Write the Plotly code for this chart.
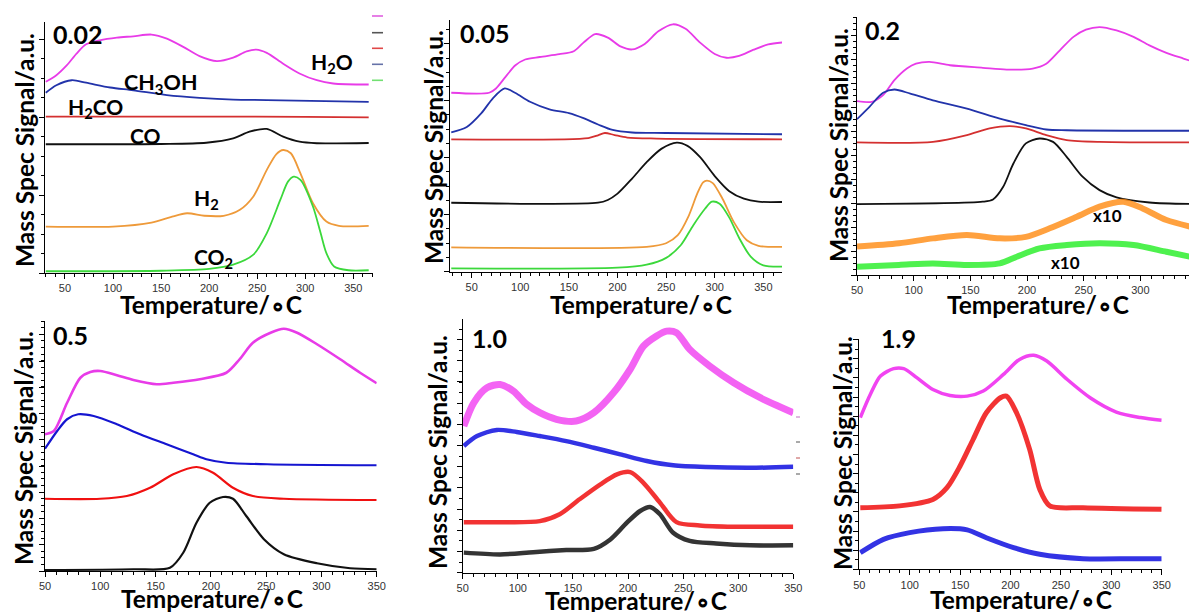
import plotly.graph_objects as go

# ---------------- DATA (x: Temperature / °C, y: signal, arbitrary units) ----------------
# Panel "0.02"
p1_h2o_T = [30, 41, 52, 62, 72, 86, 104, 121, 140, 156, 173, 190, 208, 225, 239, 249, 260, 277, 294, 312, 329, 366]
p1_h2o = [76.2, 78.8, 82.8, 87.4, 91.1, 92.7, 93.8, 94.3, 95.0, 93.4, 90.1, 86.4, 84.4, 85.8, 88.3, 89.0, 87.7, 83.4, 79.5, 76.8, 75.5, 75.1]
p1_ch3oh_T = [30, 41, 57, 72, 97, 121, 156, 190, 225, 260, 366]
p1_ch3oh = [71.8, 74.8, 76.8, 75.8, 73.9, 72.8, 70.9, 69.8, 69.1, 68.9, 68.2]
p1_h2co_T = [30, 100, 200, 300, 366]
p1_h2co = [62.3, 62.3, 62.3, 62.2, 62.0]
p1_co_T = [30, 150, 197, 225, 242, 260, 277, 294, 312, 366]
p1_co = [51.3, 51.4, 51.9, 53.6, 56.3, 57.4, 54.3, 52.3, 51.7, 51.8]
p1_h2_T = [30, 100, 140, 160, 177, 195, 215, 232, 246, 260, 270, 277, 285, 295, 308, 322, 335, 366]
p1_h2 = [18.5, 18.5, 20.1, 22.3, 23.8, 22.8, 22.8, 25.2, 30.5, 41.1, 47.4, 49.0, 47.7, 39.7, 27.8, 20.5, 18.8, 18.8]
p1_co2_T = [30, 150, 200, 225, 246, 260, 274, 282, 288, 295, 308, 316, 322, 330, 345, 366]
p1_co2 = [0.7, 0.9, 1.6, 3.3, 7.3, 15.9, 29.1, 36.4, 38.4, 37.1, 26.5, 15.9, 7.9, 2.6, 1.1, 1.1]

# Panel "0.05"
p2_h2o_T = [29, 68, 75, 85, 95, 105, 120, 140, 155, 165, 177, 190, 203, 215, 228, 242, 257, 270, 285, 300, 312, 325, 340, 355, 370]
p2_h2o = [71.1, 71.1, 72.8, 77.5, 82.0, 84.3, 85.3, 86.4, 87.6, 91.0, 94.4, 93.0, 89.5, 88.3, 90.5, 95.5, 98.3, 96.5, 91.0, 86.5, 85.0, 85.7, 88.2, 90.3, 91.1]
p2_ch3oh_T = [29, 45, 60, 72, 84, 95, 110, 130, 150, 165, 180, 195, 215, 250, 370]
p2_ch3oh = [55.4, 57.5, 63.0, 69.0, 72.8, 71.0, 67.5, 64.5, 63.0, 61.0, 58.5, 56.3, 55.3, 55.1, 54.6]
p2_h2co_T = [29, 170, 180, 187, 197, 210, 240, 370]
p2_h2co = [52.6, 53.1, 54.2, 55.1, 54.3, 53.3, 52.9, 52.6]
p2_co_T = [29, 180, 190, 200, 215, 230, 245, 261, 272, 285, 300, 315, 330, 345, 370]
p2_co = [27.4, 27.4, 28.5, 31.0, 37.0, 43.5, 48.8, 51.3, 50.0, 45.5, 38.0, 32.0, 29.0, 27.8, 27.7]
p2_h2_T = [29, 230, 250, 262, 273, 282, 288, 292, 298, 308, 320, 333, 345, 370]
p2_h2 = [9.7, 9.9, 11.3, 14.5, 22.0, 31.0, 35.5, 36.2, 35.2, 29.0, 19.5, 12.5, 10.3, 9.9]
p2_co2_T = [29, 200, 230, 250, 265, 278, 290, 297, 305, 315, 325, 337, 350, 370]
p2_co2 = [1.3, 1.6, 2.8, 5.5, 10.5, 18.5, 25.0, 27.8, 27.0, 21.5, 13.5, 6.0, 2.5, 2.0]

# Panel "0.2"
p3_h2o_T = [50, 63, 73, 83, 94, 102, 114, 132, 161, 182, 205, 217, 229, 241, 252, 264, 279, 294, 308, 323, 338, 350]
p3_h2o = [67.4, 67.1, 69.7, 75.5, 80.0, 81.9, 82.6, 81.3, 80.3, 79.6, 80.0, 81.9, 87.1, 92.3, 95.1, 96.1, 94.8, 92.3, 89.0, 86.1, 83.9, 82.2]
p3_ch3oh_T = [50, 61, 73, 83, 97, 117, 147, 176, 199, 217, 235, 350]
p3_ch3oh = [60.4, 65.2, 70.6, 71.9, 70.3, 67.7, 64.5, 60.6, 58.1, 56.4, 56.1, 55.9]
p3_h2co_T = [50, 117, 147, 167, 185, 199, 217, 235, 264, 350]
p3_h2co = [51.4, 51.6, 54.2, 56.8, 57.7, 56.8, 54.2, 52.3, 51.6, 51.4]
p3_co_T = [50, 161, 170, 179, 188, 199, 211, 223, 235, 249, 264, 279, 308, 350]
p3_co = [27.5, 28.4, 29.3, 34.2, 43.2, 51.0, 52.9, 51.6, 45.8, 38.1, 32.9, 30.1, 28.1, 27.5]
p3_h2_T = [50, 87, 117, 147, 176, 199, 220, 244, 264, 285, 302, 323, 350]
p3_h2 = [11.0, 12.3, 14.2, 15.5, 14.2, 14.8, 18.1, 22.6, 26.5, 28.4, 25.8, 21.3, 18.1]
p3_co2_T = [50, 87, 117, 147, 176, 191, 211, 235, 264, 294, 323, 350]
p3_co2 = [3.2, 3.9, 4.5, 3.9, 4.5, 7.1, 10.3, 11.6, 12.3, 11.6, 9.0, 6.5]

# Panel "0.5"
p4_h2o_T = [50, 58, 70, 82, 91, 100, 115, 130, 151, 166, 190, 214, 226, 238, 254, 266, 278, 296, 317, 335, 350]
p4_h2o = [54.7, 56.0, 67.3, 77.3, 79.6, 80.0, 78.3, 76.4, 74.7, 75.3, 76.7, 79.3, 84.7, 91.3, 95.3, 96.9, 95.3, 90.7, 84.7, 79.3, 75.1]
p4_ch3oh_T = [50, 61, 70, 80, 94, 115, 136, 160, 184, 196, 214, 251, 350]
p4_ch3oh = [48.9, 56.0, 60.7, 62.7, 62.0, 58.7, 54.7, 50.7, 46.7, 44.7, 43.3, 42.7, 42.3]
p4_h2co_T = [50, 100, 124, 145, 166, 187, 202, 220, 238, 266, 350]
p4_h2co = [28.9, 28.9, 30.0, 33.3, 38.7, 41.6, 39.3, 33.3, 30.0, 28.9, 28.4]
p4_co_T = [50, 130, 163, 175, 187, 199, 211, 220, 232, 248, 266, 296, 326, 350]
p4_co = [0.4, 0.7, 1.3, 7.3, 19.3, 27.3, 29.6, 28.9, 22.0, 12.7, 6.7, 3.1, 1.1, 0.7]

# Panel "1.0"
p5_h2o_T = [51, 60, 72, 84, 96, 108, 120, 135, 153, 169, 187, 202, 214, 226, 235, 244, 256, 274, 296, 320, 350]
p5_h2o = [57.7, 66.9, 72.8, 74.1, 71.5, 66.3, 63.0, 60.4, 59.7, 63.0, 70.9, 80.1, 89.2, 93.2, 95.1, 94.5, 87.9, 81.4, 74.8, 68.9, 63.0]
p5_ch3oh_T = [51, 63, 81, 99, 120, 144, 169, 193, 217, 241, 271, 311, 350]
p5_ch3oh = [49.9, 53.8, 56.2, 55.4, 53.8, 51.8, 49.2, 46.6, 44.0, 42.3, 41.6, 41.3, 41.7]
p5_h2co_T = [51, 84, 120, 138, 156, 175, 190, 202, 214, 229, 244, 265, 296, 350]
p5_h2co = [19.9, 19.9, 20.3, 23.0, 28.9, 34.8, 38.7, 39.6, 35.4, 27.6, 19.9, 18.6, 18.1, 18.1]
p5_co_T = [51, 84, 114, 144, 169, 184, 199, 211, 220, 229, 241, 256, 280, 311, 350]
p5_co = [7.9, 7.2, 8.1, 8.9, 9.4, 13.1, 19.7, 24.3, 25.9, 23.0, 15.7, 12.5, 11.5, 10.8, 10.8]

# Panel "1.9"
p6_h2o_T = [51, 61, 71, 84, 94, 107, 123, 140, 157, 173, 193, 209, 223, 236, 256, 279, 305, 329, 350]
p6_h2o = [65.8, 75.9, 83.8, 87.0, 87.0, 83.1, 78.0, 75.4, 75.1, 77.3, 84.5, 91.0, 92.8, 90.3, 82.4, 74.4, 68.2, 65.8, 64.6]
p6_h2co_T = [51, 90, 123, 137, 150, 163, 176, 190, 196, 206, 219, 229, 239, 272, 350]
p6_h2co = [26.7, 27.5, 30.3, 35.4, 44.8, 56.4, 67.9, 74.4, 75.1, 67.9, 52.0, 34.7, 27.5, 26.7, 26.0]
p6_ch3oh_T = [51, 74, 100, 133, 157, 176, 203, 229, 272, 322, 350]
p6_ch3oh = [7.2, 13.0, 15.9, 17.6, 17.1, 13.7, 9.4, 6.5, 4.6, 4.6, 4.6]

panel_labels = ["0.02", "0.05", "0.2", "0.5", "1.0", "1.9"]
xtick_vals = [50, 100, 150, 200, 250, 300, 350]

# ---------------- STYLE ----------------
MAG = "#E83BE8"
BLUE1 = "#2233AA"
BLUE = "#1515D0"
RED1 = "#D43030"
RED = "#F01010"
BLACK = "#111111"
ORANGE = "#EE9A3A"
ORANGE3 = "#FF8A10"
GREEN = "#3BD83B"
GREEN3 = "#22EE22"

# the page body margin shifts the figure by 8px right and down
OFFX, OFFY = 8, 8
W, H = 1197 - OFFX, 612 - OFFY
BIG = "Lato, 'Open Sans', Arial, sans-serif"

def px(x):
    return (x - OFFX) / W

def py(y):
    return 1 - (y - OFFY) / H

# panel boxes in reference pixels: (left, right, top, bottom)
panels = [
    dict(box=(45, 373.3, 22, 273), xr=[29.2, 370.8], ydt=31.05, ymdt=7.76),
    dict(box=(450, 782, 20, 271.7), xr=[27.7, 369.2], ydt=22.65, ymdt=5.66),
    dict(box=(857, 1197, 17, 275), xr=[50, 350], ydt=9.3, ymdt=2.32),
    dict(box=(45, 376.7, 321, 571), xr=[50, 350], ydt=10.5, ymdt=2.63),
    dict(box=(462.7, 793.3, 318.7, 572.7), xr=[50, 350], ydt=8.35, ymdt=4.17),
    dict(box=(859.3, 1161.7, 338.7, 569.3), xr=[50, 350], ydt=8.3, ymdt=4.15),
]

fig = go.Figure()

def add(i, xs, ys, color, width, opacity=1.0):
    fig.add_trace(go.Scatter(
        x=xs, y=ys, mode="lines",
        line=dict(color=color, width=width, shape="spline", smoothing=0.8),
        opacity=opacity, xaxis=f"x{i}", yaxis=f"y{i}",
        showlegend=False, hoverinfo="skip"))

# panel 1
add(1, p1_h2o_T, p1_h2o, MAG, 1.8)
add(1, p1_ch3oh_T, p1_ch3oh, BLUE1, 1.8)
add(1, p1_h2co_T, p1_h2co, RED1, 1.8)
add(1, p1_co_T, p1_co, BLACK, 1.8)
add(1, p1_h2_T, p1_h2, ORANGE, 1.8)
add(1, p1_co2_T, p1_co2, GREEN, 1.8)
# panel 2
add(2, p2_h2o_T, p2_h2o, MAG, 1.8)
add(2, p2_ch3oh_T, p2_ch3oh, BLUE1, 1.8)
add(2, p2_h2co_T, p2_h2co, RED1, 1.8)
add(2, p2_co_T, p2_co, BLACK, 1.8)
add(2, p2_h2_T, p2_h2, ORANGE, 1.8)
add(2, p2_co2_T, p2_co2, GREEN, 1.8)
# panel 3
add(3, p3_h2o_T, p3_h2o, MAG, 1.8)
add(3, p3_ch3oh_T, p3_ch3oh, BLUE1, 1.8)
add(3, p3_h2co_T, p3_h2co, RED1, 1.8)
add(3, p3_co_T, p3_co, BLACK, 1.8)
add(3, p3_h2_T, p3_h2, ORANGE3, 6, 0.8)
add(3, p3_co2_T, p3_co2, GREEN3, 6, 0.8)
# panel 4
add(4, p4_h2o_T, p4_h2o, MAG, 2.6)
add(4, p4_ch3oh_T, p4_ch3oh, BLUE, 2.2)
add(4, p4_h2co_T, p4_h2co, RED, 2.2)
add(4, p4_co_T, p4_co, BLACK, 2.2)
# panel 5
add(5, p5_h2o_T, p5_h2o, "#F030F0", 7, 0.75)
add(5, p5_ch3oh_T, p5_ch3oh, "#1010E0", 4.5, 0.85)
add(5, p5_h2co_T, p5_h2co, RED, 4.5, 0.85)
add(5, p5_co_T, p5_co, BLACK, 4.5, 0.85)
# panel 6
add(6, p6_h2o_T, p6_h2o, "#F030F0", 3.5, 0.9)
add(6, p6_h2co_T, p6_h2co, RED, 5, 0.85)
add(6, p6_ch3oh_T, p6_ch3oh, "#1010E0", 5, 0.85)

layout = dict(width=W, height=H, margin=dict(l=0, r=0, t=0, b=0, autoexpand=False),
              paper_bgcolor="white", plot_bgcolor="white", showlegend=False)

for i, p in enumerate(panels, start=1):
    l, r, t, b = p["box"]
    xd = [max(px(l), 0.0), min(px(r), 1.0)]
    yd = [py(b), py(t)]
    layout[f"xaxis{i}"] = dict(
        domain=xd, range=p["xr"], anchor=f"y{i}", showgrid=False, zeroline=False,
        automargin=False,
        showline=True, linecolor="black", linewidth=1.2,
        ticks="outside", ticklen=5, tickwidth=1, tickcolor="black",
        tickmode="array", tickvals=xtick_vals,
        tickfont=dict(family="Liberation Sans, Arial, sans-serif", size=11, color="#333"),
        minor=dict(ticks="outside", ticklen=3, tickcolor="black", dtick=10, tick0=0, showgrid=False),
        fixedrange=True)
    layout[f"yaxis{i}"] = dict(
        domain=yd, range=[0, 100], anchor=f"x{i}", showgrid=False, zeroline=False,
        automargin=False,
        showline=True, linecolor="black", linewidth=1.2, showticklabels=False,
        ticks="outside", ticklen=5, tickcolor="black", tick0=0, dtick=p["ydt"],
        minor=dict(ticks="outside", ticklen=3, tickcolor="black", dtick=p["ymdt"], tick0=0, showgrid=False),
        fixedrange=True)

fig.update_layout(**layout)

ann = []
def txt(x, y, s, size, angle=0):
    ann.append(dict(x=px(x), y=py(y), xref="paper", yref="paper", text=f"<b>{s}</b>",
                    showarrow=False, textangle=angle, xanchor="center", yanchor="middle",
                    font=dict(family=BIG, size=size, color="black")))

# y titles
for (x, y) in [(24, 150), (433, 147), (838, 145), (24, 448), (437, 452), (842, 453)]:
    txt(x, y, "Mass Spec Signal/a.u.", 24.5, angle=-90)
# x titles
for (x, y) in [(211, 304), (641, 304), (1038, 304), (212, 598), (636, 600), (1021, 599)]:
    txt(x, y, "Temperature/∘C", 24.5)
# panel labels
for (x, y), s in zip([(77, 34), (484, 33), (882, 30), (70, 335), (489, 338), (898, 338)], panel_labels):
    txt(x, y, s, 25)
# species labels (panel 0.02)
txt(332, 63, "H<sub>2</sub>O", 21)
txt(160, 84, "CH<sub>3</sub>OH", 21.5)
txt(95, 108, "H<sub>2</sub>CO", 21)
txt(145, 135, "CO", 21)
txt(206, 199, "H<sub>2</sub>", 21)
txt(213, 258, "CO<sub>2</sub>", 21)
# x10 labels (panel 0.2)
txt(1107, 215, "x10", 17)
txt(1065, 262, "x10", 17)
fig.update_layout(annotations=ann)

# little legend dashes at top right of panel 0.02
shapes = []
for yy, c in [(16, "#E060E0"), (32.7, "#555555"), (48.3, "#E04848"), (64.3, "#6672A8"), (80.3, "#72E072")]:
    shapes.append(dict(type="line", xref="paper", yref="paper", x0=px(372), x1=px(383),
                       y0=py(yy), y1=py(yy), line=dict(color=c, width=1.6)))
# small stray tick marks at right of panel 1.0
for yy, c in [(417, "#C070C0"), (442, "#555555"), (458, "#C05050"), (474, "#555555")]:
    shapes.append(dict(type="line", xref="paper", yref="paper", x0=px(796), x1=px(800),
                       y0=py(yy), y1=py(yy), line=dict(color=c, width=1)))
fig.update_layout(shapes=shapes)

fig.write_html("out.html")
